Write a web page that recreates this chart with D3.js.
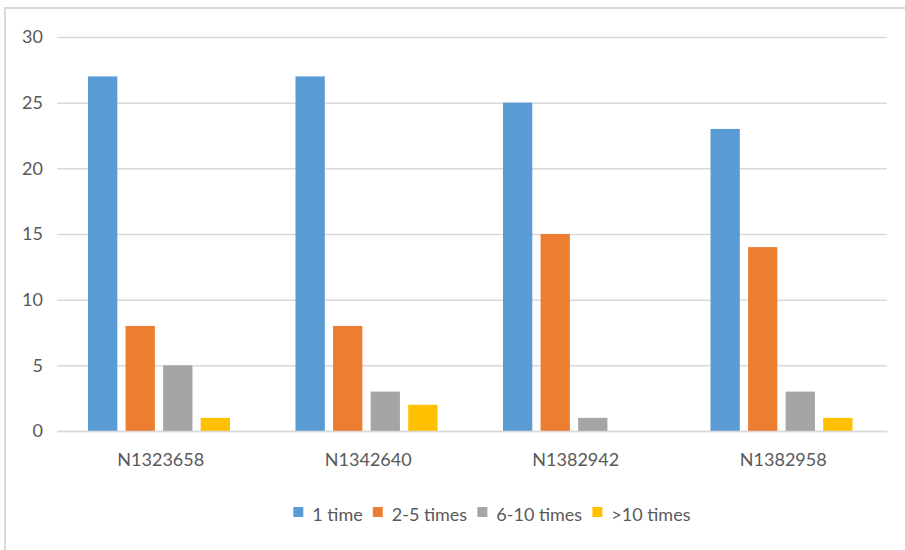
<!DOCTYPE html>
<html>
<head>
<meta charset="utf-8">
<script src="https://cdn.jsdelivr.net/npm/d3@7"></script>
<style>
  html, body { margin: 0; padding: 0; background: #fff; }
  svg { display: block; font-family: Lato, "Open Sans", sans-serif; }
</style>
</head>
<body>
<svg id="chart" width="905" height="550"></svg>
<script>
// Categories and series
const categories = ["N1323658", "N1342640", "N1382942", "N1382958"];
const seriesNames = ["1 time", "2-5 times", "6-10 times", ">10 times"];
const oneTime = [27, 27, 25, 23];
const twoToFive = [8, 8, 15, 14];
const sixToTen = [5, 3, 1, 3];
const overTen = [1, 2, 0, 1];
const yTicks = [0, 5, 10, 15, 20, 25, 30];
const colors = ["#5B9BD5", "#ED7D31", "#A5A5A5", "#FFC000"];

const seriesValues = [oneTime, twoToFive, sixToTen, overTen];
const rows = categories.map((c, i) => ({
  category: c,
  values: seriesNames.map((s, j) => ({ series: s, value: seriesValues[j][i] }))
}));

const svg = d3.select("#chart");
const textColor = "#595959";
const gridColor = "#D9D9D9";

// Chart frame (left and top edges)
svg.append("line").attr("x1", 5).attr("x2", 5).attr("y1", 7).attr("y2", 550)
  .attr("stroke", "#D9D9D9").attr("stroke-width", 2);
svg.append("line").attr("x1", 4).attr("x2", 905).attr("y1", 8).attr("y2", 8)
  .attr("stroke", "#D9D9D9").attr("stroke-width", 2);

const plot = { left: 57, right: 887, top: 37, bottom: 431 };

const y = d3.scaleLinear().domain([0, 30]).range([plot.bottom, plot.top]);
const x0 = d3.scaleBand().domain(categories).range([plot.left, plot.right]).padding(0);
const x1 = d3.scaleBand().domain(seriesNames).range([31, 173]).paddingInner(0.22).paddingOuter(0);
const color = d3.scaleOrdinal().domain(seriesNames).range(colors);

// Gridlines and y tick labels
const yAxis = d3.axisLeft(y).tickValues(yTicks).tickSize(-(plot.right - plot.left)).tickPadding(14);
const gy = svg.append("g").attr("transform", `translate(${plot.left},0)`).call(yAxis);
gy.select(".domain").remove();
gy.selectAll(".tick line").attr("stroke", gridColor).attr("stroke-width", 1.5);
gy.selectAll(".tick text").attr("fill", textColor).style("font-size", "18px")
  .style("font-family", "Lato, sans-serif");

// Bars
const groups = svg.append("g").selectAll("g").data(rows).join("g")
  .attr("transform", d => `translate(${x0(d.category)},0)`);
groups.selectAll("rect").data(d => d.values.filter(v => v.value > 0)).join("rect")
  .attr("x", d => x1(d.series))
  .attr("width", x1.bandwidth())
  .attr("y", d => y(d.value))
  .attr("height", d => y(0) - y(d.value))
  .attr("fill", d => color(d.series));

// Category axis
const xAxis = d3.axisBottom(x0).tickSize(0).tickPadding(22);
const gx = svg.append("g").attr("transform", `translate(0,${plot.bottom})`).call(xAxis);
gx.select(".domain").attr("stroke", gridColor).attr("stroke-width", 1.5);
gx.selectAll(".tick text").attr("fill", textColor).style("font-size", "18px")
  .style("font-family", "Lato, sans-serif");

// Legend
const legend = svg.append("g");
const items = legend.selectAll("g").data(seriesNames).join("g");
items.append("rect").attr("width", 10).attr("height", 10).attr("y", -14)
  .attr("fill", d => color(d));
items.append("text").attr("x", 19).attr("y", 0).text(d => d)
  .attr("fill", textColor).style("font-size", "18px").style("font-family", "Lato, sans-serif");
let cursor = 0;
items.each(function () {
  const w = this.getBBox().width;
  d3.select(this).attr("data-w", w);
});
items.attr("transform", function () {
  const t = `translate(${cursor},0)`;
  cursor += +d3.select(this).attr("data-w") + 10;
  return t;
});
const total = cursor - 10;
legend.attr("transform", `translate(${(plot.left + plot.right) / 2 - total / 2 + 20},521)`);
</script>
</body>
</html>
